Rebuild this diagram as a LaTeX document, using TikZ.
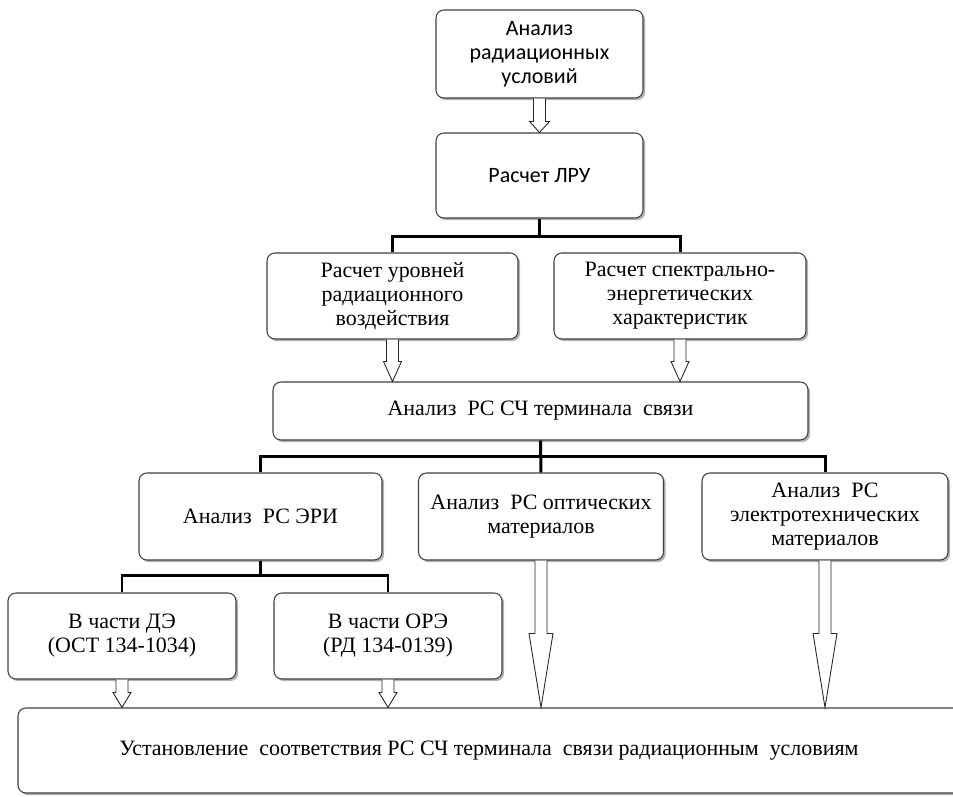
\documentclass[tikz,border=0pt]{standalone}
\usepackage{fontspec}
\setmainfont{Liberation Serif}
\newfontfamily\calibri{Carlito}
\usetikzlibrary{calc,shadows}

\newdimen\px \px=0.02cm

% hollow block arrow: from, to, half head width, head length
\newcommand{\hollowarrow}[4]{%
  \draw[hollow] ($(#1)+(-6,0)$) -- ($(#2)+(-6,-#4)$) -- ($(#2)+(-#3,-#4)$) -- (#2)
    -- ($(#2)+(#3,-#4)$) -- ($(#2)+(6,-#4)$) -- ($(#1)+(6,0)$);}

\begin{document}
\begin{tikzpicture}[x=0.02cm, y=-0.02cm]
    % Define styles
    \tikzstyle{box} = [rectangle, rounded corners=4.5pt, draw=black!75, line width=0.6pt, fill=white, align=center, inner sep=2pt, font=\fontsize{12.5}{13.7}\selectfont, drop shadow={shadow xshift=1.2pt, shadow yshift=-1.2pt, fill=black!60, opacity=0.5}]
    \tikzstyle{sansbox} = [box, font=\calibri\fontsize{12.5}{13.5}\selectfont]
    \tikzstyle{tree} = [line width=1.7pt]
    \tikzstyle{hollow} = [draw=black!85, line width=0.5pt, fill=white, line join=miter]

    \useasboundingbox (0,0) rectangle (953,796);

    % Nodes
    \node [sansbox, minimum width=207\px, minimum height=88\px] (cond) at (539.5,54) {Анализ\\радиационных\\условий};
    \node [sansbox, minimum width=207\px, minimum height=85\px] (lru) at (539.5,175.5) {Расчет ЛРУ};
    \node [box, minimum width=251\px, minimum height=86\px] (rad) at (392.5,296) {Расчет уровней\\радиационного\\воздействия};
    \node [box, minimum width=252\px, minimum height=86\px] (spec) at (680,296) {Расчет спектрально-\\энергетических\\характеристик};
    \node [box, minimum width=535\px, minimum height=58\px] (term) at (540.5,411) {Анализ\ \ РС СЧ терминала\ \ связи};
    \node [box, minimum width=243\px, minimum height=87\px] (eri) at (260.5,516.5) {Анализ\ \ РС ЭРИ};
    \node [box, minimum width=245\px, minimum height=87\px] (opt) at (541,516.5) {Анализ\ \ РС оптических\\материалов};
    \node [box, minimum width=246\px, minimum height=87\px] (elec) at (825,516.5) {Анализ\ \ РС\\электротехнических\\материалов};
    \node [box, minimum width=228\px, minimum height=86\px] (de) at (122,636) {В части ДЭ\\(ОСТ 134-1034)};
    \node [box, minimum width=228\px, minimum height=86\px] (ore) at (388,636) {В части ОРЭ\\(РД 134-0139)};
    \node [box, minimum width=982\px, minimum height=85\px] (match) at (509,750.5) {\hspace*{-40\px}Установление\ \ соответствия РС СЧ терминала\ \ связи радиационным\ \ условиям};

    % Tree lines
    \draw [tree] (lru.south) -- ++(0,19);
    \draw [tree] (rad.north) -- ++(0,-16) -| (spec.north);
    \draw [tree] (term.south) -- (opt.north);
    \draw [tree] (eri.north) -- ++(0,-16) -| (elec.north);
    \draw [tree] (eri.south) -- ++(0,16);
    \draw [tree] (de.north) -- ++(0,-17) -| (ore.north);

    % Arrows
    \coordinate (t3) at (rad.south |- term.north);
    \coordinate (t4) at (spec.south |- term.north);
    \coordinate (t7) at (opt.south |- match.north);
    \coordinate (t8) at (elec.south |- match.north);
    \coordinate (t9) at (de.south |- match.north);
    \coordinate (t10) at (ore.south |- match.north);
    \hollowarrow{cond.south}{lru.north}{10}{11}
    \hollowarrow{rad.south}{t3}{9}{20}
    \hollowarrow{spec.south}{t4}{9}{20}
    \hollowarrow{opt.south}{t7}{12}{74}
    \hollowarrow{elec.south}{t8}{12}{74}
    \hollowarrow{de.south}{t9}{9}{15}
    \hollowarrow{ore.south}{t10}{9}{15}
\end{tikzpicture}
\end{document}
